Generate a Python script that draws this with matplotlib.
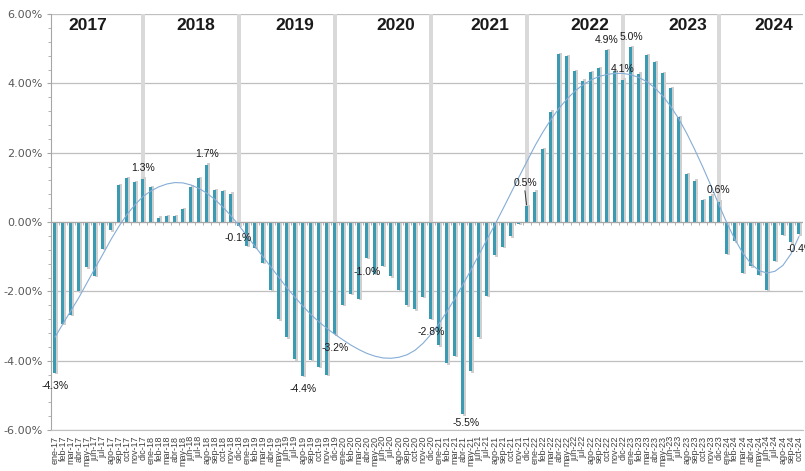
import numpy as np
import matplotlib
matplotlib.use("Agg")
import matplotlib.pyplot as plt

# month labels ene-17 .. oct-24
meses = ["ene", "feb", "mar", "abr", "may", "jun", "jul", "ago", "sep", "oct", "nov", "dic"]
labels = [f"{m}-{y}" for y in range(17, 25) for m in meses][:94]

# monthly variation (%)
values = [
    -4.35, -2.94, -2.67, -2.00, -1.31, -1.55, -0.78, -0.24, 1.07, 1.26, 1.15, 1.25,   # 2017
    1.00, 0.13, 0.17, 0.17, 0.37, 1.02, 1.26, 1.66, 0.92, 0.89, 0.82, -0.10,          # 2018
    -0.69, -0.74, -1.17, -1.96, -2.80, -3.33, -3.96, -4.44, -3.99, -4.17, -4.41, -3.24,  # 2019
    -2.38, -2.07, -2.22, -1.03, -1.50, -1.27, -1.57, -1.95, -2.40, -2.52, -2.16, -2.79,  # 2020
    -3.56, -4.07, -3.85, -5.55, -4.31, -3.32, -2.12, -0.96, -0.72, -0.41, -0.05, 0.45,   # 2021
    0.88, 2.10, 3.18, 4.85, 4.79, 4.35, 4.08, 4.33, 4.44, 4.96, 4.35, 4.11,          # 2022
    5.05, 4.28, 4.81, 4.62, 4.30, 3.86, 3.02, 1.39, 1.19, 0.64, 0.76, 0.59,          # 2023
    -0.92, -0.55, -1.46, -1.28, -1.53, -1.96, -1.11, -0.37, -0.58, -0.35,            # 2024
]

# trend line as it appears in the chart (read per month)
trend = [
    -3.32, -2.93, -2.55, -2.17, -1.75, -1.33, -0.92, -0.50, -0.12, 0.22, 0.50, 0.74,
    0.90, 1.02, 1.10, 1.14, 1.13, 1.07, 0.97, 0.83, 0.65, 0.43, 0.18, -0.10,
    -0.40, -0.70, -1.00, -1.30, -1.60, -1.90, -2.17, -2.43, -2.67, -2.88, -3.07, -3.24,
    -3.40, -3.55, -3.68, -3.79, -3.87, -3.92, -3.93, -3.90, -3.83, -3.70, -3.50, -3.24,
    -2.93, -2.58, -2.20, -1.80, -1.38, -0.94, -0.50, -0.07, 0.38, 0.84, 1.30, 1.75,
    2.20, 2.60, 2.96, 3.28, 3.55, 3.78, 3.96, 4.10, 4.20, 4.26, 4.29, 4.29,
    4.25, 4.17, 4.05, 3.87, 3.63, 3.33, 2.97, 2.55, 2.08, 1.58, 1.05, 0.50,
    -0.03, -0.50, -0.90, -1.20, -1.40, -1.47, -1.42, -1.25, -0.92, -0.42,
]

years = ["2017", "2018", "2019", "2020", "2021", "2022", "2023", "2024"]
year_x = [4.1, 17.6, 30.0, 42.6, 54.4, 66.8, 79.1, 89.8]

# (index, text, x, y) data labels
annotations = [
    (0, "-4.3%", 0.0, -4.74),
    (11, "1.3%", 11.0, 1.56),
    (19, "1.7%", 19.0, 1.97),
    (23, "-0.1%", 22.9, -0.46),
    (31, "-4.4%", 31.0, -4.83),
    (35, "-3.2%", 35.0, -3.64),
    (39, "-1.0%", 39.0, -1.45),
    (47, "-2.8%", 47.0, -3.18),
    (51, "-5.5%", 51.4, -5.81),
    (59, "0.5%", 58.75, 1.13),
    (69, "4.9%", 69.0, 5.26),
    (72, "5.0%", 72.0, 5.35),
    (71, "4.1%", 71.0, 4.42),
    (83, "0.6%", 83.0, 0.92),
]

teal = "#3b9ab3"
shadow = "#cfcfcf"
sep_gray = "#d9d9d9"
grid_gray = "#bfbfbf"

x = np.arange(len(values))
vals = np.array(values)

fig = plt.figure(figsize=(8.05, 4.71), dpi=100)
ax = fig.add_axes([0.0634, 0.087, 0.934, 0.883])

# year separators at each december
dec_idx = [i for i in range(11, len(values) - 1, 12)]
ax.bar(dec_idx, [6] * len(dec_idx), width=0.5, color=sep_gray, zorder=1)

# bar shadows and bars
ax.bar(x + 0.18, vals + np.sign(vals) * 0.04, width=0.32, color=shadow, zorder=2)
ax.bar(x - 0.06, vals, width=0.38, color=teal, zorder=3)

# trend line
ax.plot(x, trend, color="#86acd6", lw=0.8, zorder=4)

# zero line with small category ticks
ax.axhline(0, color="#a6a6a6", lw=0.8, zorder=3.5)
ax.vlines(np.arange(-0.5, len(values)), -0.07, 0, color="#a6a6a6", lw=0.6, zorder=3.5)

ax.set_xlim(-0.5, 93.5)
ax.set_ylim(-6, 6)
ax.set_yticks(np.arange(-6, 6.1, 2))
ax.set_yticklabels([f"{v:.2f}%" for v in np.arange(-6, 6.1, 2)], color="#595959", fontsize=8)
ax.set_yticks(np.arange(-6, 6.1, 0.4), minor=True)
ax.tick_params(axis="y", which="major", length=3, color="#a6a6a6", pad=3)
ax.tick_params(axis="y", which="minor", length=2, color="#a6a6a6")
ax.yaxis.grid(True, color=grid_gray, lw=0.9, zorder=0)
ax.set_axisbelow(True)

ax.set_xticks(x)
ax.set_xticklabels(labels, rotation=90, fontsize=6.5, family="Liberation Sans", color="#404040")
ax.tick_params(axis="x", length=0, pad=4)

for s in ["top", "right"]:
    ax.spines[s].set_visible(False)
ax.spines["left"].set_color("#a6a6a6")
ax.spines["bottom"].set_color(grid_gray)

for name, xp in zip(years, year_x):
    ax.text(xp, 5.66, name, ha="center", va="center", fontsize=12.5,
            fontweight="bold", family="Liberation Sans", color="#1a1a1a")

for idx, txt, xp, yp in annotations:
    ax.text(xp, yp, txt, ha="center", va="center", fontsize=7.5,
            family="Liberation Sans", color="#1a1a1a", zorder=6)
# leader line for the 0.5% label
ax.plot([58.75, 58.95], [0.9, values[59] + 0.05], color="#333333", lw=0.7, zorder=6)

# last label cut at the right edge
ax.text(91.5, -0.78, "-0.4%", ha="left", va="center", fontsize=7.5,
        family="Liberation Sans", color="#1a1a1a", clip_on=False, zorder=6)

fig.savefig("out.png", dpi=100)
